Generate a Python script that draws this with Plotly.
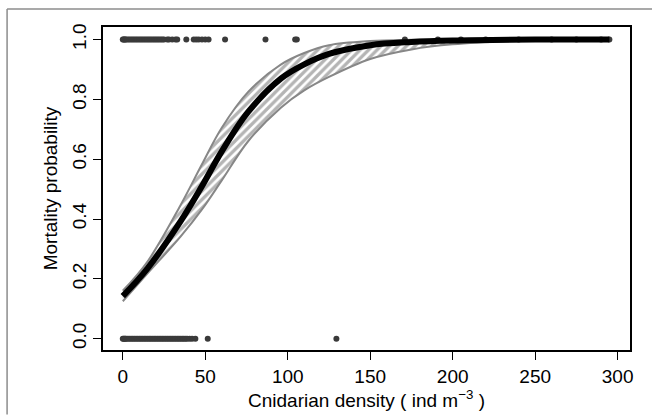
import plotly.graph_objects as go

# %% data
band_x = [0, 15, 35, 48, 60, 76, 96, 110, 125, 150, 175, 200, 250, 295]
lower = [0.125, 0.218, 0.341, 0.432, 0.529, 0.66, 0.773, 0.83, 0.875, 0.935, 0.967, 0.984, 0.997, 1.0]
upper = [0.16, 0.258, 0.446, 0.583, 0.705, 0.825, 0.917, 0.955, 0.981, 0.995, 0.999, 1.0, 1.0, 1.0]
fitted = [0.142, 0.235, 0.392, 0.51, 0.626, 0.758, 0.87, 0.917, 0.952, 0.981, 0.992, 0.997, 1.0, 1.0]

dead_x = [0, 0.5, 1, 1.5, 2, 3, 4, 5, 6, 7, 8, 9, 10, 11, 12, 13, 14, 15, 16, 17, 18, 19, 20, 21,
          22, 23, 24, 25, 27, 28, 30, 32, 33, 38.5, 43, 44.5, 46, 48, 50, 52, 62, 86.5, 104.5,
          105.5, 171, 191, 205, 220, 240, 260, 275, 290, 295]
alive_x = [0, 0.5, 1, 1.5, 2, 3, 4, 5, 6, 7, 8, 9, 10, 11, 12, 13, 14, 15, 16, 17, 18, 19, 20,
           21, 22, 23, 24, 25, 26, 27, 28, 29, 30, 31, 32, 33, 34, 35, 36, 37, 38, 39, 40.5, 42,
           44, 51.5, 129.5]

# %% figure
fig = go.Figure()
fig.add_trace(go.Scatter(x=band_x, y=lower, mode="lines", line=dict(color="#878787", width=2, shape="spline"),
                         showlegend=False, hoverinfo="skip"))
fig.add_trace(go.Scatter(x=band_x, y=upper, mode="lines", line=dict(color="#878787", width=2, shape="spline"),
                         fill="tonexty", fillcolor="white",
                         fillpattern=dict(shape="/", fgcolor="#6a6a6a", bgcolor="white", size=6, solidity=0.55),
                         showlegend=False, hoverinfo="skip"))
fig.add_trace(go.Scatter(x=dead_x, y=[1] * len(dead_x), mode="markers",
                         marker=dict(color="#3a3a3a", size=6), showlegend=False))
fig.add_trace(go.Scatter(x=alive_x, y=[0] * len(alive_x), mode="markers",
                         marker=dict(color="#3a3a3a", size=6), showlegend=False))
fig.add_trace(go.Scatter(x=band_x, y=fitted, mode="lines", line=dict(color="black", width=6, shape="spline"),
                         showlegend=False))

axis_font = dict(family="Liberation Sans, Arial", size=19, color="black")
fig.update_layout(
    width=652,
    height=416,
    margin=dict(l=103, r=22, t=27, b=64),
    plot_bgcolor="white",
    paper_bgcolor="white",
    font=axis_font,
    xaxis=dict(range=[-12, 307.5], tickvals=[0, 50, 100, 150, 200, 250, 300], ticks="outside", ticklen=8,
               tickcolor="black", showgrid=False, zeroline=False, showline=True, linecolor="black",
               linewidth=1.5, mirror=True, tickfont=axis_font,
               title=dict(text="Cnidarian density ( ind m<sup>−3</sup> )", font=axis_font, standoff=4)),
    yaxis=dict(range=[-0.038, 1.042], tickvals=[0, 0.2, 0.4, 0.6, 0.8, 1.0],
               ticktext=["0.0", "0.2", "0.4", "0.6", "0.8", "1.0"], tickangle=-90, ticks="outside", ticklen=8,
               tickcolor="black", showgrid=False, zeroline=False, showline=True, linecolor="black",
               linewidth=1.5, mirror=True, tickfont=axis_font,
               title=dict(text="Mortality probability", font=axis_font, standoff=6)),
)

# outer gray frame (cut at right and bottom)
fig.add_shape(type="line", xref="paper", yref="paper", x0=-0.182, x1=-0.182, y0=1.056, y1=-0.2,
              line=dict(color="#8c8c8c", width=1.5))
fig.add_shape(type="line", xref="paper", yref="paper", x0=-0.182, x1=1.05, y0=1.056, y1=1.056,
              line=dict(color="#8c8c8c", width=1.5))

fig.write_html("out.html", config={"displayModeBar": False},
               post_script="document.body.style.margin='0';document.body.style.overflow='hidden';")
